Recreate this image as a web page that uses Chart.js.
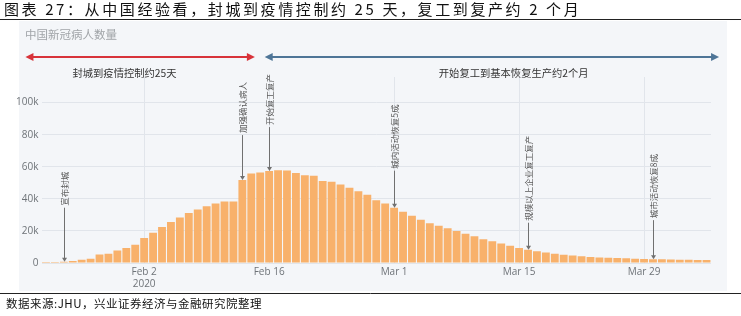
<!DOCTYPE html>
<html>
 <head>
  <meta charset="utf-8">
  <title>中国新冠病人数量</title>
  <script src="https://cdn.jsdelivr.net/npm/chart.js"></script>
  <style>
    html, body { margin: 0; padding: 0; background: #ffffff; }
    #myChart { display: block; }
  </style>
 </head>
 <body>
  <canvas id="myChart" width="741" height="316"></canvas>
  <script type="text/javascript">
    // daily categories, Jan 22 - Apr 5 2020
    const dates = [
      'Jan 22','Jan 23','Jan 24','Jan 25','Jan 26','Jan 27','Jan 28','Jan 29','Jan 30','Jan 31',
      'Feb 1','Feb 2','Feb 3','Feb 4','Feb 5','Feb 6','Feb 7','Feb 8','Feb 9','Feb 10',
      'Feb 11','Feb 12','Feb 13','Feb 14','Feb 15','Feb 16','Feb 17','Feb 18','Feb 19','Feb 20',
      'Feb 21','Feb 22','Feb 23','Feb 24','Feb 25','Feb 26','Feb 27','Feb 28','Feb 29',
      'Mar 1','Mar 2','Mar 3','Mar 4','Mar 5','Mar 6','Mar 7','Mar 8','Mar 9','Mar 10',
      'Mar 11','Mar 12','Mar 13','Mar 14','Mar 15','Mar 16','Mar 17','Mar 18','Mar 19','Mar 20',
      'Mar 21','Mar 22','Mar 23','Mar 24','Mar 25','Mar 26','Mar 27','Mar 28','Mar 29','Mar 30','Mar 31',
      'Apr 1','Apr 2','Apr 3','Apr 4','Apr 5'
    ];
    // active patients
    const activeCases = [
      600, 600, 800, 1300, 2000, 2700, 5300, 5800, 7800, 9400,
      11400, 15600, 18800, 22500, 25600, 28300, 31200, 33400, 35400, 37100,
      38300, 38300, 51700, 55800, 56500, 57300, 57900, 57700, 56200, 54800,
      54400, 51200, 50600, 49000, 46900, 44800, 42500, 39200, 37100,
      34500, 31900, 29500, 27000, 24800, 23200, 21700, 20000, 18300, 16700,
      14800, 13500, 12100, 10800, 9400, 8300, 7300, 6500, 5800, 5200,
      4600, 4200, 3800, 3500, 3300, 3100, 2900, 2700, 2500, 2400, 2300,
      2200, 2100, 2000, 1900, 1800
    ];
    const tickDates = ['Feb 2', 'Feb 16', 'Mar 1', 'Mar 15', 'Mar 29'];
    const yTicks = [0, 20000, 40000, 60000, 80000, 100000];

    const noteDates = ['Jan 24', 'Feb 13', 'Feb 16', 'Mar 1', 'Mar 16', 'Mar 30'];
    const noteTexts = ['宣布封城', '加强确认病人', '开始复工复产', '城内活动恢复5成', '规模以上企业复工复产', '城市活动恢复8成'];
    const noteGaps = [54, 45, 44, 37, 27, 39];

    const titleText = '图表 27：从中国经验看，封城到疫情控制约 25 天，复工到复产约 2 个月';
    const sourceText = '数据来源:JHU，兴业证券经济与金融研究院整理';

    function arrowHead(c, x, y, ang, len, half) {
        c.beginPath();
        c.moveTo(x, y);
        c.lineTo(x - len * Math.cos(ang) + half * Math.sin(ang), y - len * Math.sin(ang) - half * Math.cos(ang));
        c.lineTo(x - len * Math.cos(ang) - half * Math.sin(ang), y - len * Math.sin(ang) + half * Math.cos(ang));
        c.closePath();
        c.fill();
    }

    function spanArrow(c, x1, x2, y, color) {
        c.strokeStyle = color;
        c.fillStyle = color;
        c.lineWidth = 2;
        c.beginPath();
        c.moveTo(x1 + 4, y);
        c.lineTo(x2 - 4, y);
        c.stroke();
        arrowHead(c, x1, y, Math.PI, 8, 4);
        arrowHead(c, x2, y, 0, 8, 4);
    }

    function spanLabel(c, text, x, y) {
        c.fillStyle = '#333';
        c.font = '10.3px "Noto Sans CJK SC"';
        c.textAlign = 'center';
        c.textBaseline = 'middle';
        c.fillText(text, x, y);
    }

    const decor = {
        id: 'decor',
        beforeDraw(chart) {
            const c = chart.ctx;
            c.save();
            c.fillStyle = '#ffffff';
            c.fillRect(0, 0, chart.width, chart.height);
            c.fillStyle = '#f4f6f9';
            c.fillRect(19, 21, 708, 270);
            // heading
            c.fillStyle = '#111';
            c.font = '15px "Noto Sans CJK SC"';
            c.textAlign = 'left';
            c.textBaseline = 'middle';
            c.letterSpacing = '2.6px';
            c.fillText(titleText, 4, 9);
            c.strokeStyle = '#222';
            c.lineWidth = 1;
            c.beginPath();
            c.moveTo(0, 19.5); c.lineTo(741, 19.5);
            c.moveTo(0, 293.5); c.lineTo(741, 293.5);
            c.stroke();
            c.font = '11.5px "Noto Sans CJK SC"';
            c.letterSpacing = '0.5px';
            c.fillText(sourceText, 6, 304);
            c.letterSpacing = '0px';
            c.fillStyle = '#a0a4a8';
            c.font = '11.5px "Noto Sans CJK SC"';
            c.fillText('中国新冠病人数量', 25, 35);
            c.restore();
        },
        afterDatasetsDraw(chart) {
            const c = chart.ctx;
            const xs = chart.scales.x, ys = chart.scales.y;
            c.save();
            // period arrows
            const left = xs.getPixelForValue(0), step = xs.getPixelForValue(1) - left;
            spanArrow(c, left - 2.3 * step, left + 23.4 * step, 57, '#d8333a');
            spanArrow(c, left + 24.5 * step, left + 75.4 * step, 57, '#4e7597');
            spanLabel(c, '封城到疫情控制约25天', left + 8.8 * step, 73);
            spanLabel(c, '开始复工到基本恢复生产约2个月', left + 52.4 * step, 73);
            // event notes
            noteDates.forEach((d, i) => {
                const idx = dates.indexOf(d);
                const x = Math.round(xs.getPixelForValue(idx)) + 0.5;
                const yTop = ys.getPixelForValue(activeCases[idx]);
                const y0 = yTop - noteGaps[i];
                c.strokeStyle = '#707070';
                c.fillStyle = '#707070';
                c.lineWidth = 1;
                c.beginPath();
                c.moveTo(x, y0);
                c.lineTo(x, yTop - 3);
                c.stroke();
                arrowHead(c, x, yTop, Math.PI / 2, 4, 2.5);
                c.save();
                c.translate(x, y0 - 2);
                c.rotate(-Math.PI / 2);
                c.fillStyle = '#5a5a5a';
                c.font = '8.5px "Noto Sans CJK SC"';
                c.textAlign = 'left';
                c.textBaseline = 'middle';
                c.fillText(noteTexts[i], 0, 0);
                c.restore();
            });
            c.restore();
        }
    };

    var ctx = document.getElementById('myChart').getContext('2d');
    var myChart = new Chart(ctx, {
        type: 'bar',
        data: {
            labels: dates,
            datasets: [{
                label: '中国新冠病人数量',
                data: activeCases,
                backgroundColor: '#f8b16b',
                borderWidth: 0,
                barPercentage: 1,
                categoryPercentage: 0.88
            }]
        },
        options: {
            responsive: false,
            animation: false,
            layout: { padding: { left: 0, right: 30, top: 77, bottom: 0 } },
            plugins: {
                legend: { display: false },
                tooltip: { enabled: false }
            },
            scales: {
                x: {
                    border: { display: false },
                    grid: {
                        offset: false,
                        drawTicks: false,
                        color: (g) => tickDates.includes(dates[g.index]) ? '#e1e5eb' : 'transparent'
                    },
                    ticks: {
                        autoSkip: false,
                        maxRotation: 0,
                        padding: 3,
                        color: '#6e7378',
                        font: { family: 'Open Sans', size: 10 },
                        callback: function (v, i) {
                            const d = dates[i];
                            if (!tickDates.includes(d)) return '';
                            return d === 'Feb 2' ? [d, '2020'] : d;
                        }
                    },
                    afterFit: (s) => { s.height = 53; }
                },
                y: {
                    min: 0,
                    max: 116000,
                    border: { display: false },
                    grid: { drawTicks: false, color: '#e1e5eb' },
                    afterBuildTicks: (s) => { s.ticks = yTicks.map(v => ({ value: v })); },
                    ticks: {
                        padding: 3,
                        color: '#6e7378',
                        font: { family: 'Open Sans', size: 10 },
                        callback: (v) => v === 0 ? '0' : (v / 1000) + 'k'
                    },
                    afterFit: (s) => { s.width = 41.5; }
                }
            }
        },
        plugins: [decor]
    });
  </script>
 </body>
</html>
